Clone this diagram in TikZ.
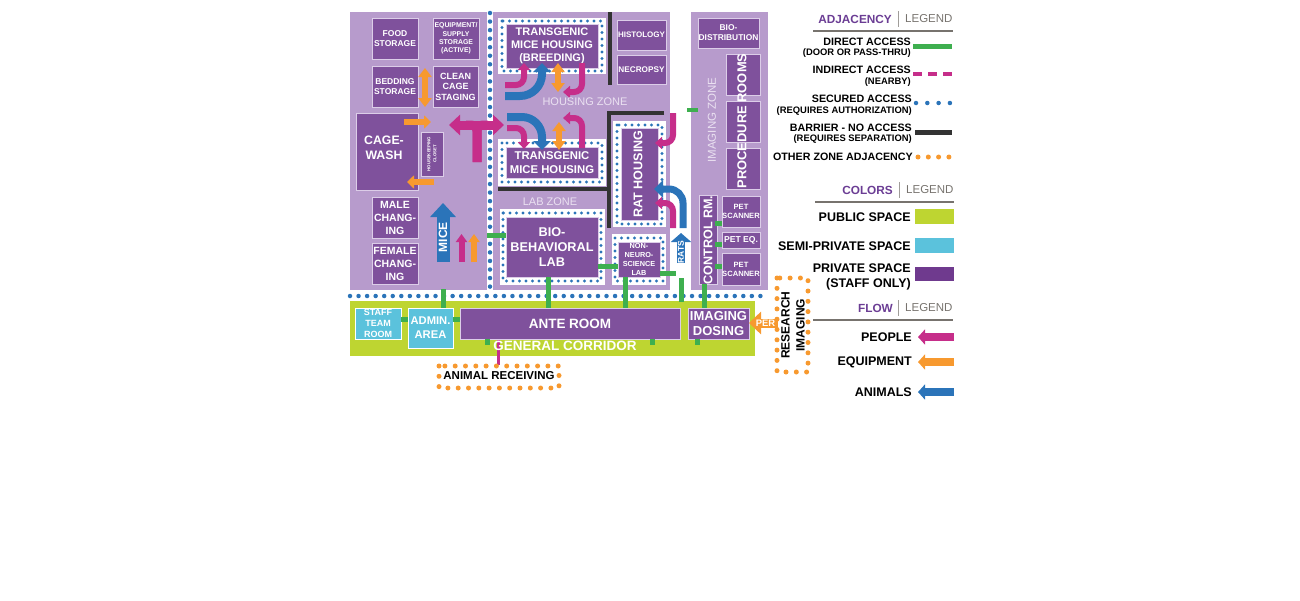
\documentclass[tikz,border=0pt]{standalone}
\usepackage{fontspec}
\setmainfont{Liberation Sans}
\usepackage{xcolor}
\definecolor{cZone}{HTML}{B79BCC}
\definecolor{cRoom}{HTML}{7F519C}
\definecolor{cPrivate}{HTML}{6F3A8E}
\definecolor{cEdge}{HTML}{DCCDE8}
\definecolor{cPublic}{HTML}{BED531}
\definecolor{cSemi}{HTML}{5BC2DC}
\definecolor{cDirect}{HTML}{3EAF4F}
\definecolor{cPeople}{HTML}{C62E8A}
\definecolor{cEquip}{HTML}{F7992F}
\definecolor{cAnimal}{HTML}{2B74B9}
\definecolor{cBarrier}{HTML}{333333}
\definecolor{cRule}{HTML}{77736E}
\definecolor{cTitle}{HTML}{6B3D94}
\usepackage{tikz}
\usetikzlibrary{positioning,arrows.meta}
\newcommand{\fs}[2]{\fontsize{#1}{#2}\selectfont}
\tikzset{
  span/.style args={#1/#2/#3/#4}{minimum width={(#3-#1)*1pt},minimum height={(#4-#2)*1pt},
    at={({(#1+#3)/2},{(#2+#4)/2})}},
  zone-box/.style={fill=cZone,inner sep=0pt},
  ring-box/.style={fill=white,inner sep=0pt},
  room-box/.style={fill=cRoom,draw=cEdge,line width=0.9pt,inner sep=0pt,
    align=center,text=white,font=\bfseries},
  semi-box/.style={room-box,fill=cSemi,draw=white},
  room-text/.style={align=center,text=white,inner sep=0pt,font=\bfseries},
  zone-text/.style={align=center,text=cEdge!60!white,inner sep=0pt,font=\fs{11}{13}},
  key-text/.style={anchor=east,align=right,inner sep=0pt,font=\bfseries\fs{10.7}{12}},
  key-sub/.style={anchor=east,align=right,inner sep=0pt,font=\bfseries\fs{9.4}{11}},
  key-big/.style={anchor=east,align=right,inner sep=0pt,font=\bfseries\fs{12.5}{15}},
  key-title/.style={anchor=east,inner sep=0pt,text=cTitle,font=\bfseries\fs{11.8}{14}},
  key-legend/.style={anchor=west,inner sep=0pt,text=cRule,font=\fs{11.5}{14}},
  key-rule/.style={draw=cRule,line width=1.5pt},
  key-bar/.style={draw=cRule!70,line width=1pt},
  link-direct/.style={draw=cDirect,line width=5pt},
  link-indirect/.style={draw=cPeople,line width=3pt},
  link-barrier/.style={draw=cBarrier,line width=4pt},
  dots-secure/.style={draw=cAnimal,line width=4.5pt,line cap=round,dash pattern=on 0pt off 8.55pt},
  dots-ring/.style={draw=cAnimal,line width=3.3pt,line cap=round,dash pattern=on 0pt off 6.5pt},
  dots-zone/.style={draw=cEquip,line width=5pt,line cap=round,dash pattern=on 0pt off 10.3pt},
  arrow-people/.style={-{Triangle[length=7pt,width=12pt]},line width=6pt,draw=cPeople},
  arrow-equip/.style={-{Triangle[length=7pt,width=13pt]},line width=6pt,draw=cEquip},
  arrow-animal/.style={-{Triangle[length=9pt,width=17pt]},line width=8pt,draw=cAnimal},
  arrow-both/.style={{Triangle[length=9pt,width=13pt]}-{Triangle[length=9pt,width=13pt]},line width=6pt,draw=cEquip},
}
\begin{document}
\begin{tikzpicture}[x=1pt,y=-1pt]
  \useasboundingbox (0,0) rectangle (1300,600);
  % zones
  \node[zone-box,span=350/12/487/290] (west) {};
  \node[zone-box,span=493/12/670/290] (housing) {};
  \node[zone-box,span=691/12/768/290] (imaging) {};
  \node[fill=cPublic,inner sep=0pt,span=350/301/755/356] (corridor) {};
  \draw[dots-secure] (490,13) -- (490,290);
  \draw[dots-secure] (350,296) -- (768,296);
  % secured rooms
  \node[ring-box,span=498/18/606/74] (ringA) {};
  \node[ring-box,span=498/139/606/186] (ringB) {};
  \node[ring-box,span=500/209/605/285] (ringC) {};
  \node[ring-box,span=613/121/666/227] (ringD) {};
  \node[ring-box,span=612/234/666/285] (ringE) {};
  \draw[dots-ring] (502,21) rectangle (602,71);
  \draw[dots-ring] (502,143) rectangle (602,182);
  \draw[dots-ring] (503,213) rectangle (601,281);
  \draw[dots-ring] (617,125) rectangle (662,224);
  \draw[dots-ring] (615,238) rectangle (663,281);
  % rooms
  \node[room-box,span=372/18/418/59,font=\bfseries\fs{8.5}{10}] (food) {FOOD\\STORAGE};
  \node[room-box,span=433/18/479/59,font=\bfseries\fs{6.9}{8.3}] (equipment) {EQUIPMENT/\\SUPPLY\\STORAGE\\(ACTIVE)};
  \node[room-box,span=372/66/418/107,font=\bfseries\fs{8.5}{10}] (bedding) {BEDDING\\STORAGE};
  \node[room-box,span=433/66/478/107,font=\bfseries\fs{9}{10.5}] (clean) {CLEAN\\CAGE\\STAGING};
  \node[room-box,span=356/113/418/190] (cagewash) {};
  \node[room-box,span=421/132/443/176] (closet) {};
  \node[room-box,span=372/197/418/238,font=\bfseries\fs{10.5}{13}] (male) {MALE\\CHANG-\\ING};
  \node[room-box,span=372/243/418/284,font=\bfseries\fs{10.5}{13}] (female) {FEMALE\\CHANG-\\ING};
  \node[room-box,span=506/24/598/68,font=\bfseries\fs{11}{13}] (breeding) {TRANSGENIC\\MICE HOUSING\\(BREEDING)};
  \node[room-box,span=506/147/598/178,font=\bfseries\fs{11.3}{14}] (mice) {TRANSGENIC\\MICE HOUSING};
  \node[room-box,span=506/217/598/277,font=\bfseries\fs{12.7}{15}] (biolab) {BIO-\\BEHAVIORAL\\LAB};
  \node[room-box,span=621/128/658/220] (rat) {};
  \node[room-box,span=618/242/660/277,font=\bfseries\fs{7.3}{9.2}] (nonneuro) {NON-\\NEURO-\\SCIENCE\\LAB};
  \node[room-box,span=617/20/666/50,font=\bfseries\fs{8}{10}] (histology) {HISTOLOGY};
  \node[room-box,span=617/55/666/84,font=\bfseries\fs{8.2}{10}] (necropsy) {NECROPSY};
  \node[room-box,span=698/18/759/48,font=\bfseries\fs{8.4}{10}] (biodist) {BIO-\\DISTRIBUTION};
  \node[room-box,span=726/54/760/95] (procA) {};
  \node[room-box,span=726/101/760/142] (procB) {};
  \node[room-box,span=726/148/760/189] (procC) {};
  \node[room-box,span=699/195/717/284] (control) {};
  \node[room-box,span=722/196/760/227,font=\bfseries\fs{7.6}{9}] (petA) {PET\\SCANNER};
  \node[room-box,span=722/232/760/248,font=\bfseries\fs{8.6}{10}] (petEq) {PET EQ.};
  \node[room-box,span=722/253/760/285,font=\bfseries\fs{7.6}{9}] (petB) {PET\\SCANNER};
  \node[semi-box,span=355/308/401/339,font=\bfseries\fs{9}{11}] (staff) {STAFF\\TEAM\\ROOM};
  \node[semi-box,span=408/308/453/348,font=\bfseries\fs{11.2}{14}] (admin) {ADMIN.\\AREA};
  \node[room-box,span=460/308/680/339,font=\bfseries\fs{13.5}{16}] (ante) {ANTE ROOM};
  \node[room-box,span=688/308/749/339,font=\bfseries\fs{13}{15}] (dosing) {IMAGING\\DOSING};
  % barriers
  \draw[link-barrier] (610,12) -- (610,85);
  \draw[link-barrier] (498,189) -- (610,189);
  \draw[link-barrier] (664,113) -| (609,228);
  % direct access
  \draw[link-direct] (443,289) -- (admin.north -| 443,0);
  \draw[link-direct] (biolab.south -| 548,0) -- (ante.north -| 548,0);
  \draw[link-direct] (487,235) -- (biolab.west |- 0,235);
  \draw[link-direct] (staff.east |- 0,319) -- (admin.west |- 0,319);
  \draw[link-direct] (admin.east |- 0,319) -- (ante.west |- 0,319);
  \draw[link-direct] (ante.south -| 487,0) -- (487,345);
  \draw[link-direct] (ante.south -| 652,0) -- (652,345);
  \draw[link-direct] (dosing.south -| 697,0) -- (697,345);
  \draw[link-direct] (biolab.east |- 0,266) -- (nonneuro.west |- 0,266);
  \draw[link-direct] (nonneuro.south -| 625,0) -- (ante.north -| 625,0);
  \draw[link-direct] (nonneuro.east |- 0,273) -- (676,273);
  \draw[link-direct] (681,278) -- (681,302);
  \draw[link-direct] (control.south -| 704,0) -- (dosing.north -| 704,0);
  \draw[link-direct] (715,223) -- (petA.west |- 0,223);
  \draw[link-direct] (715,244) -- (petEq.west |- 0,244);
  \draw[link-direct] (715,266) -- (petB.west |- 0,266);
  \draw[link-direct,line width=4pt] (687,110) -- (698,110);
  \draw[link-indirect] (498,340) -- (498,365);
  % flows
  \draw[arrow-both] (425,68) -- (425,107);
  \draw[arrow-equip] (404,122) -- (431,122);
  \draw[arrow-equip] (434,182) -- (407,182);
  \draw[cPeople,line width=9pt,rounded corners=6pt] (477,162) |- (466,125);
  \draw[cPeople,line width=9pt,rounded corners=6pt] (477,162) |- (488,125);
  \draw[cPeople,{Triangle[length=11pt,width=20pt]}-{Triangle[length=11pt,width=20pt]},line width=9pt] (449,125) -- (504,125);
  \draw[arrow-people,rounded corners=8pt] (505,85) -| (524,63);
  \draw[arrow-animal,rounded corners=22pt] (505,96) -| (542,63);
  \draw[arrow-both] (558,63) -- (558,92);
  \draw[arrow-people,rounded corners=8pt] (582,63) |- (563,92);
  \draw[arrow-animal,rounded corners=20pt] (507,117) -| (542,150);
  \draw[arrow-people,rounded corners=8pt] (507,128) -| (524,149);
  \draw[arrow-both] (559,122) -- (559,150);
  \draw[arrow-people,rounded corners=8pt] (582,148) |- (563,118);
  \draw[arrow-people,rounded corners=8pt] (673,113) |- (655,143);
  \draw[arrow-animal,line width=7pt,rounded corners=14pt] (683,228) |- (654,189);
  \draw[arrow-people,rounded corners=8pt] (673,228) |- (655,203);
  \draw[arrow-animal,-{Triangle[length=14pt,width=25pt]},line width=13pt] (443,262) -- (443,203);
  \draw[arrow-people,-{Triangle[length=8pt,width=11pt]}] (461.5,262) -- (461.5,234);
  \draw[arrow-equip,-{Triangle[length=8pt,width=11pt]}] (474,262) -- (474,234);
  \draw[arrow-animal,-{Triangle[length=9pt,width=20pt]},line width=8pt] (681,263) -- (681,233);
  \draw[arrow-equip,-{Triangle[length=12pt,width=22pt]},line width=9pt] (778,323) -- (749,323);
  % texts in the plan
  \node[room-text,font=\bfseries\fs{12.3}{15}] (cagetxt) at (384,147.5) {CAGE-\\WASH};
  \node[room-text,rotate=90,font=\bfseries\fs{4.3}{6}] (closettxt) at (432,154) {HOUSEKEEPING\\CLOSET};
  \node[room-text,rotate=90,font=\bfseries\fs{12.6}{15}] (rattxt) at (638,174) {RAT HOUSING};
  \node[room-text,rotate=90,font=\bfseries\fs{12.9}{15}] (proctxt) at (742,121) {PROCEDURE ROOMS};
  \node[room-text,rotate=90,font=\bfseries\fs{12.6}{15}] (ctrltxt) at (708,240) {CONTROL RM.};
  \node[room-text,rotate=90,font=\bfseries\fs{12}{14}] (micetxt) at (443,237) {MICE};
  \node[room-text,rotate=90,font=\bfseries\fs{8.5}{10}] (ratstxt) at (681,252) {RATS};
  \node[room-text,font=\bfseries\fs{9.4}{11}] (pertxt) at (765.5,323) {PER};
  \node[room-text,font=\bfseries\fs{13.5}{16}] (gentxt) at (565,346) {GENERAL CORRIDOR};
  \node[zone-text] (housetxt) at (585,102) {HOUSING ZONE};
  \node[zone-text] (labtxt) at (550,202) {LAB ZONE};
  \node[zone-text,rotate=90,font=\fs{11.5}{13}] (imgtxt) at (712,120) {IMAGING ZONE};
  % other zones
  \draw[dots-zone] (439,366) rectangle (559,388);
  \node[inner sep=0pt,font=\bfseries\fs{11.5}{13}] (receiving) at (499,375.5) {ANIMAL RECEIVING};
  \draw[dots-zone] (777,278) rectangle (808,372);
  \node[inner sep=0pt,rotate=90,align=center,font=\bfseries\fs{12}{15}] (research) at (793,325) {RESEARCH\\IMAGING};
  % adjacency legend
  \node[key-title] (adjT) at (892,19) {ADJACENCY};
  \draw[key-bar] (898,11) -- (898,27);
  \node[key-legend] (adjL) at (905,19) {LEGEND};
  \draw[key-rule] (813,31) -- (953,31);
  \node[key-text] (k1) at (911,42) {DIRECT ACCESS};
  \node[key-sub] (k1s) at (911,53) {(DOOR OR PASS-THRU)};
  \draw[link-direct] (913,46) -- (952,46);
  \node[key-text] (k2) at (911,70) {INDIRECT ACCESS};
  \node[key-sub] (k2s) at (911,82) {(NEARBY)};
  \draw[link-indirect,line width=4pt,dash pattern=on 9pt off 6pt] (913,74) -- (952,74);
  \node[key-text] (k3) at (912,99) {SECURED ACCESS};
  \node[key-sub] (k3s) at (912,111) {(REQUIRES AUTHORIZATION)};
  \draw[dots-secure,dash pattern=on 0pt off 11.3pt] (916,103) -- (950,103);
  \node[key-text] (k4) at (912,128) {BARRIER - NO ACCESS};
  \node[key-sub] (k4s) at (912,139) {(REQUIRES SEPARATION)};
  \draw[link-barrier,line width=5pt] (915,132) -- (952,132);
  \node[key-text] (k5) at (913,157) {OTHER ZONE ADJACENCY};
  \draw[dots-zone,dash pattern=on 0pt off 10.3pt] (918,157) -- (950,157);
  % colors legend
  \node[key-title] (colT) at (893,190) {COLORS};
  \draw[key-bar] (899,182) -- (899,198);
  \node[key-legend] (colL) at (906,190) {LEGEND};
  \draw[key-rule] (815,202) -- (954,202);
  \node[key-big] (c1) at (911,217) {PUBLIC SPACE};
  \node[fill=cPublic,inner sep=0pt,span=915/209/954/224] (c1s) {};
  \node[key-big] (c2) at (911,246) {SEMI-PRIVATE SPACE};
  \node[fill=cSemi,inner sep=0pt,span=915/238/954/253] (c2s) {};
  \node[key-big] (c3) at (911,276.5) {PRIVATE SPACE\\(STAFF ONLY)};
  \node[fill=cPrivate,inner sep=0pt,span=915/267/954/281] (c3s) {};
  % flow legend
  \node[key-title] (floT) at (893,308) {FLOW};
  \draw[key-bar] (898,300) -- (898,316);
  \node[key-legend] (floL) at (905,308) {LEGEND};
  \draw[key-rule] (813,320) -- (953,320);
  \node[key-big] (f1) at (912,337) {PEOPLE};
  \draw[arrow-people,-{Triangle[length=7pt,width=15pt]},line width=8pt] (954,337) -- (918,337);
  \node[key-big] (f2) at (912,362) {EQUIPMENT};
  \draw[arrow-equip,-{Triangle[length=7pt,width=15pt]},line width=8pt] (954,362) -- (918,362);
  \node[key-big] (f3) at (912,392) {ANIMALS};
  \draw[arrow-animal,-{Triangle[length=7pt,width=15pt]},line width=8pt] (954,392) -- (918,392);
\end{tikzpicture}
\end{document}
